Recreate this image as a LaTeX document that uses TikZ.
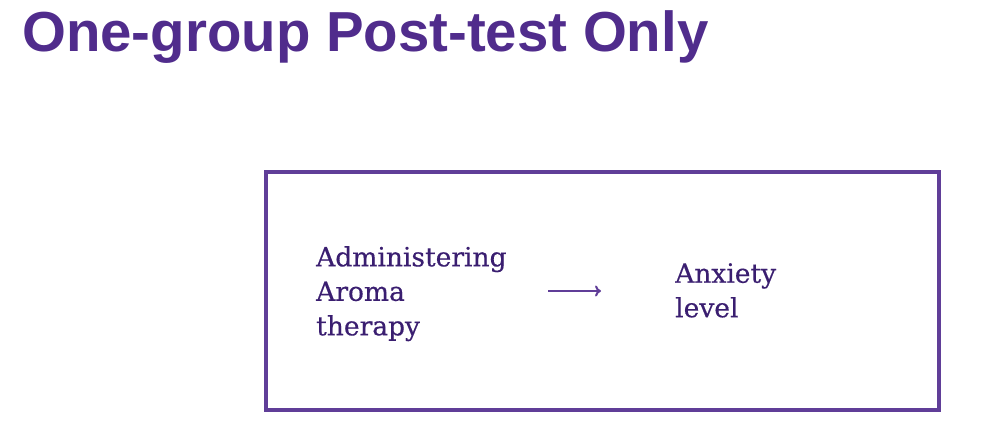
\documentclass[tikz,border=0pt]{standalone}
\usepackage{fontspec}
\setmainfont{DejaVu Serif}[UprightFeatures={FakeBold=0.4}]
\newfontfamily\titlefont{Liberation Sans}
\usetikzlibrary{arrows.meta}
\definecolor{titlepurple}{RGB}{80,44,140}
\definecolor{boxpurple}{RGB}{96,62,152}
\definecolor{textpurple}{RGB}{58,30,112}
\tikzset{
  body/.style={text=textpurple, font=\fontsize{26.5}{34.5}\selectfont, align=left, inner sep=0pt, anchor=north west},
}
\begin{document}
\begin{tikzpicture}[x=1pt,y=-1pt]
\useasboundingbox (0,0) rectangle (998,436);
\node[anchor=base west, inner sep=0pt, text=titlepurple, font=\titlefont\bfseries\fontsize{56.4}{60}\selectfont] (title) at (22,52) {One-group Post-test Only};
\node[draw=boxpurple, line width=3.5pt, minimum width=673pt, minimum height=238pt, inner sep=0pt, anchor=north west] (frame) at (264,170) {};
\node[body] (cause) at (316,246) {Administering\\Aroma\\therapy};
\node[body] (effect) at (675,263) {Anxiety\\level};
\coordinate (a1) at (548,291);
\coordinate (a2) at (601,291);
\draw[boxpurple, line width=2pt, -{To[length=6pt,width=11pt]}] (a1) -- (a2);
\end{tikzpicture}
\end{document}
